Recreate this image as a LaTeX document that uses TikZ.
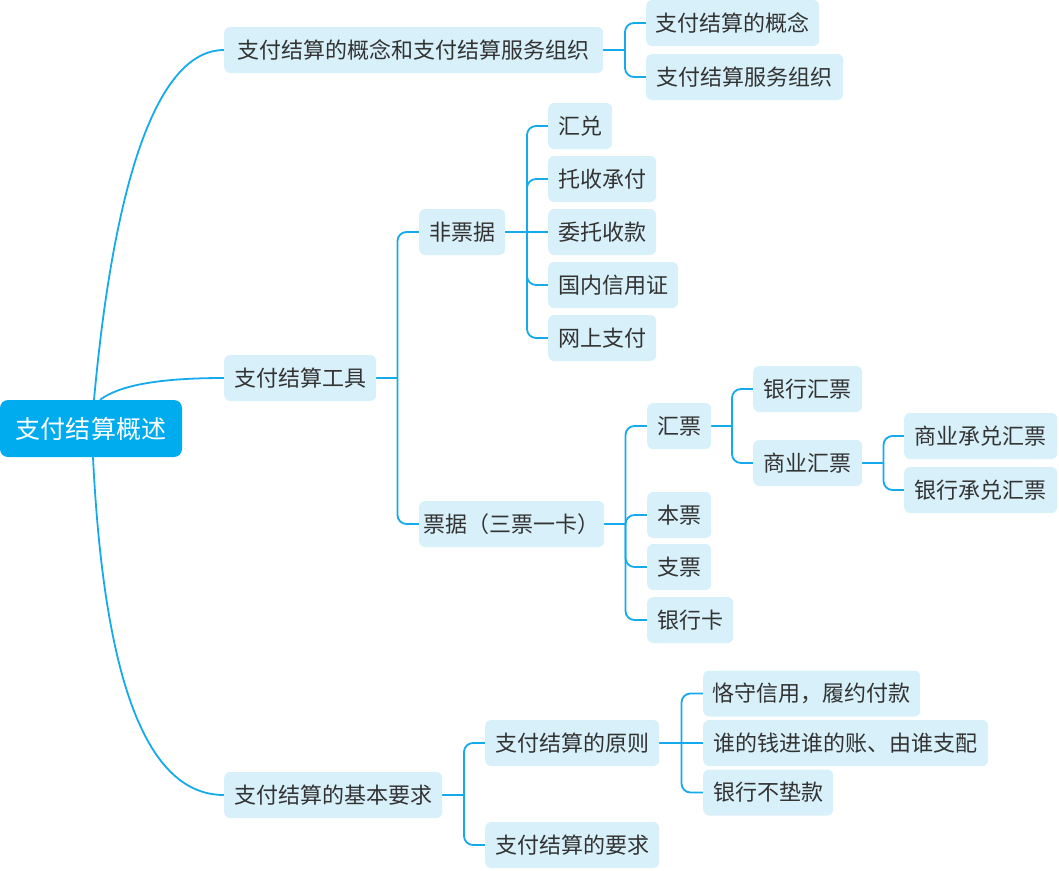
\documentclass[tikz,border=0pt]{standalone}
\usepackage{fontspec}
\setmainfont{Noto Sans CJK SC}
\usetikzlibrary{backgrounds}
\definecolor{rootc}{RGB}{0,172,238}
\definecolor{leafc}{RGB}{215,240,250}
\definecolor{linec}{RGB}{20,170,235}
\definecolor{txtc}{RGB}{51,51,51}
\tikzset{
  topic/.style={fill=leafc, rounded corners=6pt, anchor=west, minimum height=46pt,
    inner sep=0pt, text=txtc, font=\fontsize{22}{26}\selectfont},
  rootbox/.style={fill=rootc, rounded corners=8pt, minimum width=182pt, minimum height=57pt,
    inner sep=0pt, text=white, font=\fontsize{25}{29}\selectfont},
  conn/.style={draw=linec, line width=1.8pt},
  elbow/.style={conn, rounded corners=9pt},
}
\begin{document}
\begin{tikzpicture}[x=1pt,y=-1pt]
\useasboundingbox (0,0) rectangle (1059,870);
\node[rootbox] (root) at (91,428.5) {支付结算概述};

\node[topic, minimum width=379pt] (A) at (224,50) {支付结算的概念和支付结算服务组织};
\node[topic, minimum width=173pt] (A1) at (646,23) {支付结算的概念};
\node[topic, minimum width=197pt] (A2) at (646,77) {支付结算服务组织};

\node[topic, minimum width=152pt] (B) at (224,378) {支付结算工具};
\node[topic, minimum width=86pt] (B1) at (419,232) {非票据};
\node[topic, minimum width=64pt] (B11) at (548,126) {汇兑};
\node[topic, minimum width=108pt] (B12) at (548,179) {托收承付};
\node[topic, minimum width=108pt] (B13) at (548,232) {委托收款};
\node[topic, minimum width=130pt] (B14) at (548,285) {国内信用证};
\node[topic, minimum width=108pt] (B15) at (548,338) {网上支付};

\node[topic, minimum width=185pt] (B2) at (419,524) {票据（三票一卡）};
\node[topic, minimum width=64pt] (B21) at (647,426) {汇票};
\node[topic, minimum width=109pt] (B211) at (753,389) {银行汇票};
\node[topic, minimum width=109pt] (B212) at (753,463) {商业汇票};
\node[topic, minimum width=153pt] (B2121) at (904,436) {商业承兑汇票};
\node[topic, minimum width=153pt] (B2122) at (904,490) {银行承兑汇票};
\node[topic, minimum width=64pt] (B22) at (647,515) {本票};
\node[topic, minimum width=64pt] (B23) at (647,567) {支票};
\node[topic, minimum width=86pt] (B24) at (647,620) {银行卡};

\node[topic, minimum width=218pt] (C) at (224,795) {支付结算的基本要求};
\node[topic, minimum width=174pt] (C1) at (485,743) {支付结算的原则};
\node[topic, minimum width=217pt] (C11) at (703,693.5) {恪守信用，履约付款};
\node[topic, minimum width=285pt] (C12) at (703,743) {谁的钱进谁的账、由谁支配};
\node[topic, minimum width=130pt] (C13) at (703,792.5) {银行不垫款};
\node[topic, minimum width=174pt] (C2) at (485,845) {支付结算的要求};

\coordinate (jA) at (625,50);
\coordinate (jB) at (397.5,378);
\coordinate (jB1) at (527,232);
\coordinate (jB2) at (625.5,524);
\coordinate (jB21) at (732,426);
\coordinate (jB212) at (883.5,463);
\coordinate (jC) at (464,795);
\coordinate (jC1) at (681.5,743);

\begin{scope}[on background layer]
\draw[conn] ([xshift=3pt]root.north) .. controls (115,170) and (160,50) .. (A.west);
\draw[conn] ([xshift=9pt]root.north) .. controls (120,385) and (160,378) .. (B.west);
\draw[conn] ([xshift=2pt]root.south) .. controls (104,682) and (147,795) .. (C.west);

\draw[conn] (A.east) -- (jA);
\draw[elbow] (jA) |- (A1.west);
\draw[elbow] (jA) |- (A2.west);

\draw[conn] (B.east) -- (jB);
\draw[elbow] (jB) |- (B1.west);
\draw[elbow] (jB) |- (B2.west);

\draw[conn] (B1.east) -- (jB1);
\draw[elbow] (jB1) |- (B11.west);
\draw[elbow] (jB1) |- (B12.west);
\draw[conn] (jB1) -- (B13.west);
\draw[elbow] (jB1) |- (B14.west);
\draw[elbow] (jB1) |- (B15.west);

\draw[conn] (B2.east) -- (jB2);
\draw[elbow] (jB2) |- (B21.west);
\draw[elbow] (jB2) |- (B22.west);
\draw[elbow] (jB2) |- (B23.west);
\draw[elbow] (jB2) |- (B24.west);

\draw[conn] (B21.east) -- (jB21);
\draw[elbow] (jB21) |- (B211.west);
\draw[elbow] (jB21) |- (B212.west);

\draw[conn] (B212.east) -- (jB212);
\draw[elbow] (jB212) |- (B2121.west);
\draw[elbow] (jB212) |- (B2122.west);

\draw[conn] (C.east) -- (jC);
\draw[elbow] (jC) |- (C1.west);
\draw[elbow] (jC) |- (C2.west);

\draw[conn] (C1.east) -- (jC1);
\draw[elbow] (jC1) |- (C11.west);
\draw[conn] (jC1) -- (C12.west);
\draw[elbow] (jC1) |- (C13.west);
\end{scope}
\end{tikzpicture}
\end{document}
